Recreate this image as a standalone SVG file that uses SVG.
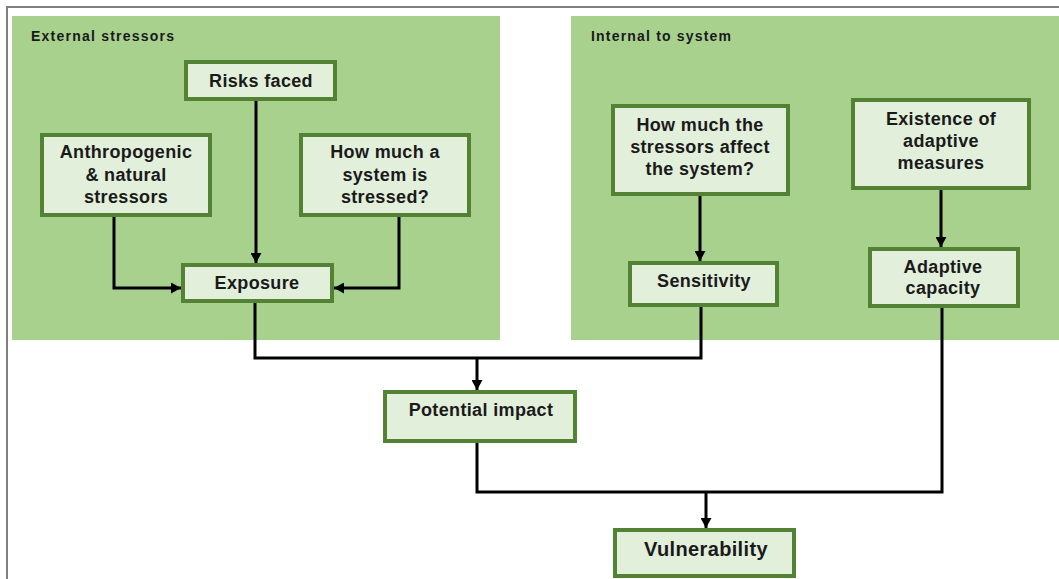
<svg xmlns="http://www.w3.org/2000/svg" width="1059" height="579" viewBox="0 0 1059 579">
  <style>
    .panel { fill: #a9d18e; }
    .box { fill: #e2efda; stroke: #548235; stroke-width: 4; }
    .t { font-family: "Liberation Sans", Arial, sans-serif; font-weight: bold; font-size: 18px; fill: #1a1a1a; text-anchor: middle; letter-spacing: 0.35px; }
    .big { font-size: 20px; }
    .plabel { font-family: "Liberation Sans", Arial, sans-serif; font-weight: bold; font-size: 14px; fill: #1a1a1a; }
    .wire { fill: none; stroke: #000; stroke-width: 3; }
    .frame { stroke: #7f7f7f; stroke-width: 2; fill: none; }
  </style>
  <defs>
    <marker id="arrow" viewBox="0 0 10 11" refX="10" refY="5.5" markerWidth="10" markerHeight="11" markerUnits="userSpaceOnUse" orient="auto">
      <path d="M0,0 L10,5.5 L0,11 z" fill="#000"/>
    </marker>
  </defs>

  <rect width="1059" height="579" fill="#fff"/>
  <path class="frame" d="M7,579 V7 H1059"/>

  <!-- background panels -->
  <g id="panel-external">
    <rect class="panel" x="12" y="16" width="488" height="324"/>
    <text class="plabel" x="31" y="41" textLength="143" lengthAdjust="spacing">External stressors</text>
  </g>
  <g id="panel-internal">
    <rect class="panel" x="571" y="16" width="488" height="324"/>
    <text class="plabel" x="591" y="41" textLength="140" lengthAdjust="spacing">Internal to system</text>
  </g>

  <!-- connectors -->
  <g id="connectors">
    <path class="wire" d="M256,101 V263" marker-end="url(#arrow)"/>
    <path class="wire" d="M114,217 V288 H181" marker-end="url(#arrow)"/>
    <path class="wire" d="M399,217 V288 H334" marker-end="url(#arrow)"/>
    <path class="wire" d="M255,303 V358 H701 V307"/>
    <path class="wire" d="M477,358 V390" marker-end="url(#arrow)"/>
    <path class="wire" d="M700,196 V261" marker-end="url(#arrow)"/>
    <path class="wire" d="M941,190 V247" marker-end="url(#arrow)"/>
    <path class="wire" d="M477,443 V492 H942 V308"/>
    <path class="wire" d="M706,492 V528" marker-end="url(#arrow)"/>
  </g>

  <!-- nodes -->
  <g id="risks-faced">
    <rect class="box" x="186" y="62" width="149" height="37"/>
    <text class="t" x="261" y="87">Risks faced</text>
  </g>
  <g id="anthropogenic-stressors">
    <rect class="box" x="42" y="135" width="168" height="80"/>
    <text class="t" x="126" y="158">Anthropogenic</text>
    <text class="t" x="126" y="181">&amp; natural</text>
    <text class="t" x="126" y="203">stressors</text>
  </g>
  <g id="system-stressed">
    <rect class="box" x="301" y="135" width="168" height="80"/>
    <text class="t" x="385" y="158">How much a</text>
    <text class="t" x="385" y="181">system is</text>
    <text class="t" x="385" y="203">stressed?</text>
  </g>
  <g id="exposure">
    <rect class="box" x="183" y="265" width="149" height="36"/>
    <text class="t" x="257" y="289">Exposure</text>
  </g>
  <g id="stressors-affect">
    <rect class="box" x="613" y="106" width="175" height="88"/>
    <text class="t" x="700" y="131">How much the</text>
    <text class="t" x="700" y="153">stressors affect</text>
    <text class="t" x="700" y="175">the system?</text>
  </g>
  <g id="sensitivity">
    <rect class="box" x="630" y="263" width="147" height="42"/>
    <text class="t" x="704" y="287">Sensitivity</text>
  </g>
  <g id="adaptive-measures">
    <rect class="box" x="853" y="100" width="176" height="88"/>
    <text class="t" x="941" y="125">Existence of</text>
    <text class="t" x="941" y="147">adaptive</text>
    <text class="t" x="941" y="169">measures</text>
  </g>
  <g id="adaptive-capacity">
    <rect class="box" x="870" y="249" width="148" height="57"/>
    <text class="t" x="943" y="273">Adaptive</text>
    <text class="t" x="943" y="294">capacity</text>
  </g>
  <g id="potential-impact">
    <rect class="box" x="385" y="392" width="190" height="49"/>
    <text class="t" x="481" y="416">Potential impact</text>
  </g>
  <g id="vulnerability">
    <rect class="box" x="615" y="530" width="179" height="46"/>
    <text class="t big" x="706" y="556">Vulnerability</text>
  </g>
</svg>
